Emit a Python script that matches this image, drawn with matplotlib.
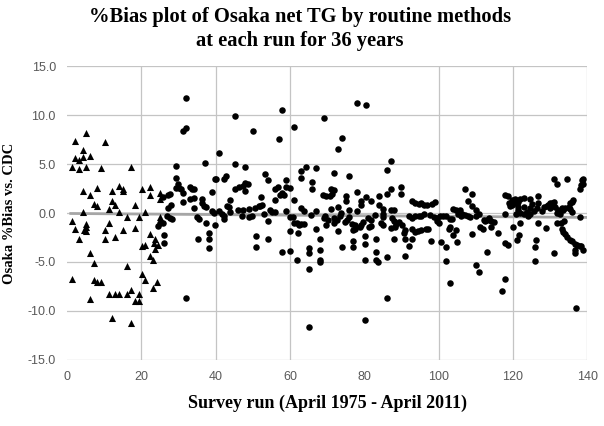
import matplotlib
matplotlib.use("Agg")
from matplotlib import pyplot as plt
import numpy as np

# early runs (triangles)
tri_x = [5.1, 2.2, 10.1, 4.2, 2.2, 3.3, 4.2, 6.3, 1.2, 3.1, 5.1, 9.2, 17.1, 4.2, 8.1, 6.3, 7.2, 8.1,
         12.1, 14.1, 15.1, 15.1, 12.1, 13.0, 11.2, 14.1, 18.2, 4.2, 16.2, 19.3, 1.2, 2.2, 5.1, 5.1,
         4.5, 5.1, 11.2, 10.1, 15.1, 18.2, 3.3, 10.1, 13.0, 6.3, 7.2, 16.2, 1.2, 7.2, 8.1, 9.2,
         6.3, 11.2, 13.0, 14.1, 16.2, 17.1, 19.3, 18.2, 19.3, 12.1, 17.1,
         20.2, 22.3, 22.3, 24.9, 24.9, 21.1, 24.9, 22.3, 23.8, 23.3, 23.8, 24.4, 20.2, 21.1,
         22.3, 23.2, 20.2, 21.1, 24.1, 23.2]
tri_y = [8.2, 7.3, 7.2, 6.4, 5.6, 5.4, 5.7, 5.8, 4.7, 4.5, 4.7, 4.6, 4.7, 2.2, 2.6, 1.8, 0.9, 0.7,
         2.2, 2.8, 2.4, 2.2, 1.2, 0.85, 0.4, 0.07, 0.8, 0.07, -0.4, -0.4, -0.85, -1.6, -1.1, -1.4,
         -1.7, -1.8, -1.0, -1.7, -1.7, -1.5, -2.7, -2.7, -2.4, -4.1, -5.1, -5.4, -6.7, -6.8, -7.0, -7.0,
         -8.8, -8.3, -8.3, -8.3, -8.3, -7.9, -8.3, -9.0, -9.0, -10.7, -11.2,
         2.4, 2.7, 1.8, 2.0, 1.4, 0.1, -0.4, -2.1, -2.7, -3.1, -3.7, -3.3, -3.4, -3.3,
         -4.4, -4.8, -6.2, -6.8, -7.0, -7.7]

# later runs (circles)
dot_x = [32.1, 31.2, 32.1, 29.2, 37.2, 39.9, 29.2, 29.8, 30.1, 29.2, 30.7, 33.2, 33.7, 34.1, 39.0,
         27.8, 27.2, 25.8, 31.1, 33.0, 34.1, 31.1, 36.2, 36.2, 36.8, 37.3, 28.0, 27.2, 34.1, 39.0,
         39.5, 39.9, 26.9, 27.6, 28.3, 35.0, 35.5, 37.3, 25.1, 25.8, 24.4, 26.0, 26.0, 35.2, 38.2,
         38.2, 38.2, 32.1,
         45.1, 57.9, 50.1, 57.0, 41.0, 45.1, 48.0, 53.2, 54.1, 40.0, 42.2, 42.8, 59.0, 45.1, 46.2,
         47.3, 48.0, 48.7, 48.0, 56.1, 56.8, 57.4, 57.9, 58.3, 59.0, 59.9, 52.1, 55.9, 44.0, 52.5,
         52.0, 43.1, 43.5, 40.8, 41.7, 42.2, 44.0, 46.0, 47.3, 49.1, 50.7, 51.6, 47.0, 48.9, 49.8,
         53.0, 54.7, 55.2, 55.9, 59.0, 42.2, 54.1, 60.1, 60.0, 51.0, 54.1, 51.0, 57.9, 59.9,
         78.1, 80.6, 69.1, 61.0, 73.9, 72.9, 64.2, 63.0, 63.0, 67.1, 72.0, 76.0, 66.0, 66.0, 71.1,
         71.8, 68.9, 69.8, 70.7, 71.4, 75.0, 75.2, 78.1, 79.2, 79.2, 80.6, 61.0, 63.0, 63.9, 65.7,
         67.1, 71.1, 72.9, 73.8, 73.6, 75.8, 75.8, 78.1, 60.8, 61.2, 62.4, 63.0, 63.9, 61.9,
         69.5, 69.1, 70.2, 69.8, 71.8, 72.0, 72.7, 74.7, 75.4, 76.7, 77.6, 77.6, 77.0, 78.8, 79.7,
         79.2, 67.1, 62.1, 72.9, 68.0, 80.1, 77.0, 65.1, 65.1, 68.0, 74.0, 77.0, 61.9, 68.0, 68.0,
         65.1, 80.1, 80.1, 65.1,
         87.1, 86.2, 87.1, 86.2, 90.0, 90.0, 81.9, 83.9, 84.1, 85.0, 85.0, 85.0, 83.0, 81.0, 81.9,
         81.9, 81.4, 84.4, 85.0, 87.1, 87.9, 87.5, 87.9, 88.2, 87.3, 88.6, 89.3, 90.2, 90.6,
         92.9, 93.8, 94.7, 95.4, 96.0, 96.9, 98.3, 99.0, 92.0, 92.9, 93.8, 94.7, 95.4, 96.0, 97.8,
         98.7, 99.6, 100.3, 92.9, 93.8, 94.5, 95.4, 96.5, 97.2, 91.0, 98.1, 100.8, 87.9, 91.1, 92.9,
         92.0, 80.1, 83.2, 83.2, 83.2, 83.7, 86.2, 90.9, 86.2,
         107.0, 107.9, 109.0, 109.0, 104.0, 104.8, 105.7, 106.4, 101.2, 102.1, 103.0, 103.7, 99.6,
         100.1, 103.0, 102.8, 104.8, 103.9, 105.2, 106.1, 107.0, 107.9, 108.6, 110.2, 110.8, 110.2,
         111.1, 112.0, 109.0, 112.2, 112.6, 113.1, 113.5, 114.2, 114.9, 114.0, 116.0, 102.1, 105.0,
         113.1, 102.1, 110.0, 110.8, 103.0, 118.0, 117.1, 118.0, 118.7, 118.9, 119.2, 119.8, 120.7,
         121.0, 118.0, 118.0, 118.7, 120.1, 121.0,
         119.7, 120.6, 121.3, 122.0, 122.9, 121.5, 122.9, 124.7, 125.1, 126.9, 126.9, 121.3, 122.0,
         122.9, 123.8, 124.2, 124.7, 124.7, 125.6, 126.5, 120.9, 122.0, 121.8, 126.3, 126.0, 126.0,
         126.9, 127.8, 128.3, 129.2, 129.6, 130.1, 130.5, 131.0, 130.1, 131.4, 132.3, 133.2, 134.1,
         135.0, 135.4, 135.9, 136.2, 129.0, 131.1, 132.0, 134.7, 132.0, 132.7, 133.4, 131.8, 132.9,
         133.8, 133.2, 133.6, 134.1, 134.5, 135.3, 131.0, 135.9, 136.8, 137.2, 138.0, 138.3, 136.8,
         136.8, 139.0, 136.9, 138.0, 138.3, 138.6, 139.0, 138.9, 138.0, 135.4, 135.9]
dot_y = [11.7, 8.4, 8.7, 4.8, 5.1, 3.5, 3.6, 3.0, 2.6, 2.6, 2.4, 2.7, 2.5, 2.4, 2.1,
         1.9, 1.8, 1.6, 2.0, 1.4, 1.5, 1.1, 1.4, 1.0, 0.7, 0.6, 0.85, 0.5, 0.5, 0.2,
         0.0, -1.2, -0.3, -0.5, -0.6, -0.4, -0.6, -1.0, -1.0, -1.0, -1.3, -2.2, -3.1, -2.7, -2.0,
         -2.7, -3.6, -8.7,
         9.9, 10.5, 8.4, 7.6, 6.1, 5.0, 4.7, 4.0, 3.4, 3.5, 3.5, 3.8, 3.4, 2.4, 2.7,
         2.8, 3.1, 3.0, 2.2, 2.4, 2.7, 1.8, 2.0, 1.8, 2.7, 2.6, 1.6, 1.3, 1.3, 0.85,
         0.75, 0.75, 0.6, 0.2, -0.07, -0.3, 0.07, 0.3, 0.3, 0.4, 0.5, 0.7, -0.3, -0.4, -0.3,
         -0.07, 0.3, 0.07, 0.07, 0.2, -0.6, -0.85, -0.4, -1.8, -2.3, -2.7, -3.5, -4.0, -3.9,
         11.2, 11.0, 9.7, 8.8, 7.7, 6.5, 4.7, 4.3, 3.6, 4.6, 4.1, 3.8, 3.2, 2.4, 2.4,
         2.3, 1.8, 1.7, 1.7, 1.9, 1.7, 1.2, 2.1, 1.2, 0.85, 1.6, 1.3, 0.5, 0.2, -0.2,
         0.2, 0.4, 0.6, 0.0, -0.3, 0.3, -0.4, 0.2, -0.4, -1.0, -1.2, -1.1, -1.1, -1.0,
         -0.3, -0.5, -0.75, -1.2, -0.5, -1.0, -0.75, -0.95, -0.75, -1.1, -1.2, -1.6, -1.7, -1.4, -0.95,
         -1.2, -1.6, -2.0, -1.8, -2.7, -2.3, -2.9, -3.6, -4.1, -3.8, -3.5, -3.5, -4.8, -4.8, -5.0,
         -5.7, -4.8, -10.9, -11.6,
         5.3, 4.4, 2.4, 1.9, 2.7, 1.9, 1.2, 1.7, 0.85, 0.4, -0.07, -0.4, -0.2, -0.5, -0.7,
         -1.3, -1.4, -1.0, -1.2, 0.27, 0.34, -0.5, -0.85, -1.4, -1.5, -1.1, -0.95, -1.2, -2.0,
         1.2, 1.0, 0.95, 1.0, 0.85, 0.85, 0.95, 1.1, -0.34, -0.5, -0.27, -0.27, -0.34, -0.07, -0.17,
         -0.4, -0.5, -0.27, -1.6, -1.9, -1.8, -1.7, -1.6, -1.6, -1.7, -2.9, -3.0, -2.7, -2.7, -2.7,
         -3.4, -3.2, -2.7, -4.0, -4.8, -5.0, -4.5, -4.4, -8.7,
         2.4, 1.2, 1.9, 0.7, 0.4, 0.3, 0.3, -0.07, -0.3, -0.3, -0.6, -0.6, -0.85,
         -1.0, -1.4, -1.6, -1.7, -2.2, -0.07, -0.27, -0.17, -0.27, -0.4, 0.3, -0.07, -0.3,
         -1.4, -1.6, -2.1, -0.7, -0.85, -0.7, -0.5, -0.85, -0.95, -1.4, -2.0, -3.5, -3.0,
         -4.0, -4.9, -5.3, -6.0, -7.1, -6.7, -8.0, 1.8, 1.7, 1.0, 0.75, 0.85, 1.4,
         1.0, -0.07, -3.1, -3.3, -1.4, -2.8,
         1.3, 1.05, 1.15, 1.4, 1.5, 0.65, 0.65, 1.4, 0.9, 1.7, 1.05, 0.3, 0.0,
         -0.1, 0.14, -0.3, -0.1, 0.5, 0.24, 0.5, -0.1, -1.0, -2.2, -2.8, -3.5, -4.9,
         -1.0, 0.2, 0.65, 0.7, 0.8, 1.0, 1.05, 1.15, 0.5, 0.65, 0.3, 0.5, 0.55,
         0.65, 1.0, 1.15, 1.3, -1.5, 3.5, 3.0, 3.5, -0.05, -0.1, 0.3, -1.0, -1.05,
         -0.8, -1.6, -1.9, -2.1, -2.4, -2.8, -4.1, -2.9, -3.2, -3.3, -3.4, -3.4, -3.8,
         -4.1, -3.8, -9.7, 2.4, 2.9, 3.4, 3.5, 3.0, -0.4, 0.4, 0.1]

trend_x = [1, 140]
trend_y = [-0.05, -0.45]

x_ticks = [0, 20, 40, 60, 80, 100, 120, 140]
y_ticks = [-15, -10, -5, 0, 5, 10, 15]
x_grid = [20, 40, 60, 100, 120, 140]

serif = "Liberation Serif"

fig = plt.figure(figsize=(6.04, 4.26), dpi=100)
ax = fig.add_axes([0.111, 0.155, 0.861, 0.69])

for v in y_ticks:
    ax.axhline(v, color="#c4c4c4", lw=0.9, zorder=0)
for v in x_grid:
    ax.axvline(v, color="#c4c4c4", lw=0.9, zorder=0)

ax.plot(trend_x, trend_y, color="#a6a6a6", lw=2.0, zorder=1)
ax.scatter(tri_x, tri_y, marker="^", s=26, color="black", lw=0, zorder=3)
ax.scatter(dot_x, dot_y, marker="o", s=22, color="black", lw=0, zorder=3)

ax.set_xlim(0, 140)
ax.set_ylim(-15, 15)
ax.set_xticks(x_ticks)
ax.set_yticks(y_ticks)
ax.set_yticklabels(["%.1f" % v for v in y_ticks])
ax.tick_params(length=0, labelsize=9, labelcolor="#595959", pad=8)
for lab in ax.get_xticklabels() + ax.get_yticklabels():
    lab.set_family("Liberation Sans")
for s in ax.spines.values():
    s.set_visible(False)

ax.set_xlabel("Survey run (April 1975 - April 2011)", family=serif, weight="bold",
              fontsize=13, labelpad=8)
ax.set_ylabel("Osaka %Bias vs. CDC", family=serif, weight="bold", fontsize=10.5, labelpad=8)

fig.text(0.497, 1 - 17 / 426, "%Bias plot of Osaka net TG by routine methods", family=serif,
         weight="bold", fontsize=14.8, ha="center", va="center")
fig.text(0.497, 1 - 41 / 426, "at each run for 36 years", family=serif,
         weight="bold", fontsize=14.8, ha="center", va="center")

fig.savefig("out.png", dpi=100)
